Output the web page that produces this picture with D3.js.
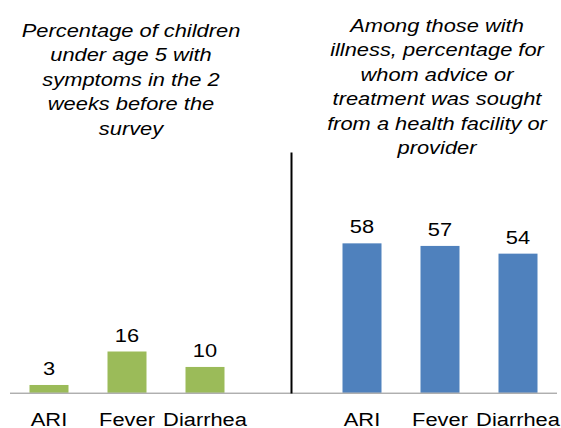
<!DOCTYPE html>
<html>
<head>
<meta charset="utf-8">
<script src="https://cdn.jsdelivr.net/npm/d3@7"></script>
<style>
  html, body { margin: 0; padding: 0; background: #ffffff; }
  svg { display: block; }
  text { font-family: "Liberation Sans", Arial, sans-serif; fill: #000; }
</style>
</head>
<body>
<script>
const categories = ["ARI", "Fever", "Diarrhea"];
const symptomsPct = [3, 16, 10];
const careSoughtPct = [58, 57, 54];
const leftTitleLines = ["Percentage of children", "under age 5 with", "symptoms in the 2", "weeks before the", "survey"];
const rightTitleLines = ["Among those with", "illness, percentage for", "whom advice or", "treatment was sought", "from a health facility or", "provider"];

const W = 561, H = 428;
const baseY = 392.7;
const sx = 1.15; // horizontal stretch of the lettering
const fs = 19;

const svg = d3.select("body").append("svg").attr("width", W).attr("height", H);

const y = d3.scaleLinear().domain([0, 60]).range([baseY, baseY - 154.5]);
const xLeft = d3.scaleBand().domain(categories).range([10, 244]).paddingInner(0.5).paddingOuter(0.25);
const xRight = d3.scaleBand().domain(categories).range([323, 557]).paddingInner(0.5).paddingOuter(0.25);

function stretchedText(g, x, yy, str, italic) {
  g.append("text")
    .attr("transform", `translate(${x},${yy}) scale(${sx},1)`)
    .attr("text-anchor", "middle")
    .style("font-size", fs + "px")
    .style("font-style", italic ? "italic" : "normal")
    .text(str);
}

function panel(xs, values, color) {
  const g = svg.append("g");
  g.selectAll("rect").data(values).join("rect")
    .attr("x", (d, i) => xs(categories[i]))
    .attr("width", xs.bandwidth())
    .attr("y", d => y(d))
    .attr("height", d => baseY - y(d))
    .attr("fill", color);
  values.forEach((v, i) => {
    stretchedText(g, xs(categories[i]) + xs.bandwidth() / 2, y(v) - 10, String(v), false);
    stretchedText(g, xs(categories[i]) + xs.bandwidth() / 2, 425.5, categories[i], false);
  });
}

panel(xLeft, symptomsPct, "#9BBB59");
panel(xRight, careSoughtPct, "#4F81BD");

// baseline
svg.append("line").attr("x1", 10).attr("x2", 557).attr("y1", baseY + 0.5).attr("y2", baseY + 0.5)
  .attr("stroke", "#8c8c8c").attr("stroke-width", 1);

// divider
svg.append("line").attr("x1", 291.5).attr("x2", 291.5).attr("y1", 152.5).attr("y2", 393.5)
  .attr("stroke", "#000").attr("stroke-width", 2);

// titles
const tg = svg.append("g");
leftTitleLines.forEach((l, i) => stretchedText(tg, 131, 36.7 + i * 24.5, l, true));
rightTitleLines.forEach((l, i) => stretchedText(tg, 437, 31.7 + i * 24.5, l, true));
</script>
</body>
</html>
